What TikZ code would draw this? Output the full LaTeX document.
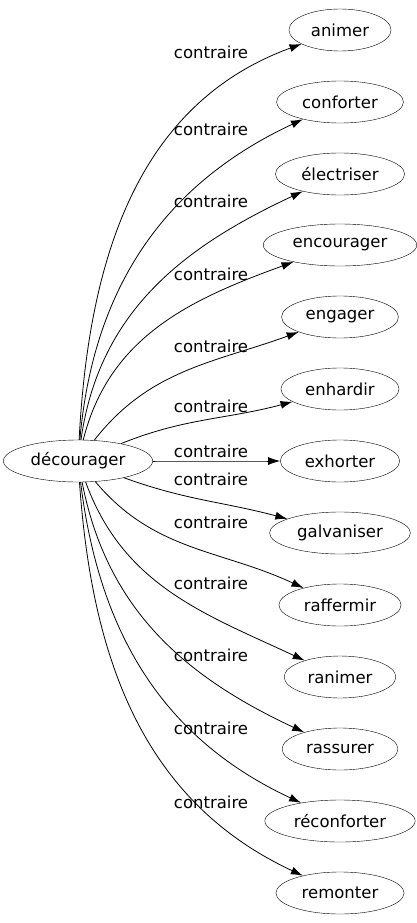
\documentclass[tikz,border=0pt]{standalone}
\usepackage{fontspec}
\setmainfont{DejaVu Sans}
\usetikzlibrary{arrows.meta, shapes.geometric}
\tikzset{
  word/.style={draw, ellipse, inner xsep=7pt, inner ysep=3pt, minimum height=42pt},
  rel/.style={inner sep=1pt},
  link/.style={-{Latex[length=12pt, width=8pt]}, line width=0.8pt}
}

\begin{document}
\begin{tikzpicture}[x=1pt, y=1pt, font=\fontsize{16.5}{19}\selectfont]
  \useasboundingbox (0,0) rectangle (416,-923);

  % The source word
  \node[word, inner xsep=5.5pt] (root) at (78,-461) {décourager};

  % Antonyms: name / y / out / in / label y
  \foreach \w/\y/\o/\i/\ly [count=\k] in {
      animer/30/87/200/52, conforter/102/85/205/129,
      électriser/174/82/205/201, encourager/245/76/200/274,
      engager/317/52/200/346, enhardir/389/22/195/406,
      exhorter/461/0/180/451, galvaniser/533/-20/165/479,
      raffermir/605/-50/155/522, ranimer/677/-70/155/583,
      rassurer/749/-79/155/655, réconforter/821/-83/155/728,
      remonter/893/-86/155/802} {
    \node[word] (t\k) at (340,-\y) {\w};
    \draw[link] (root) to[out=\o, in=\i] (t\k);
    \node[rel] (l\k) at (211,-\ly) {contraire};
  }
\end{tikzpicture}
\end{document}
